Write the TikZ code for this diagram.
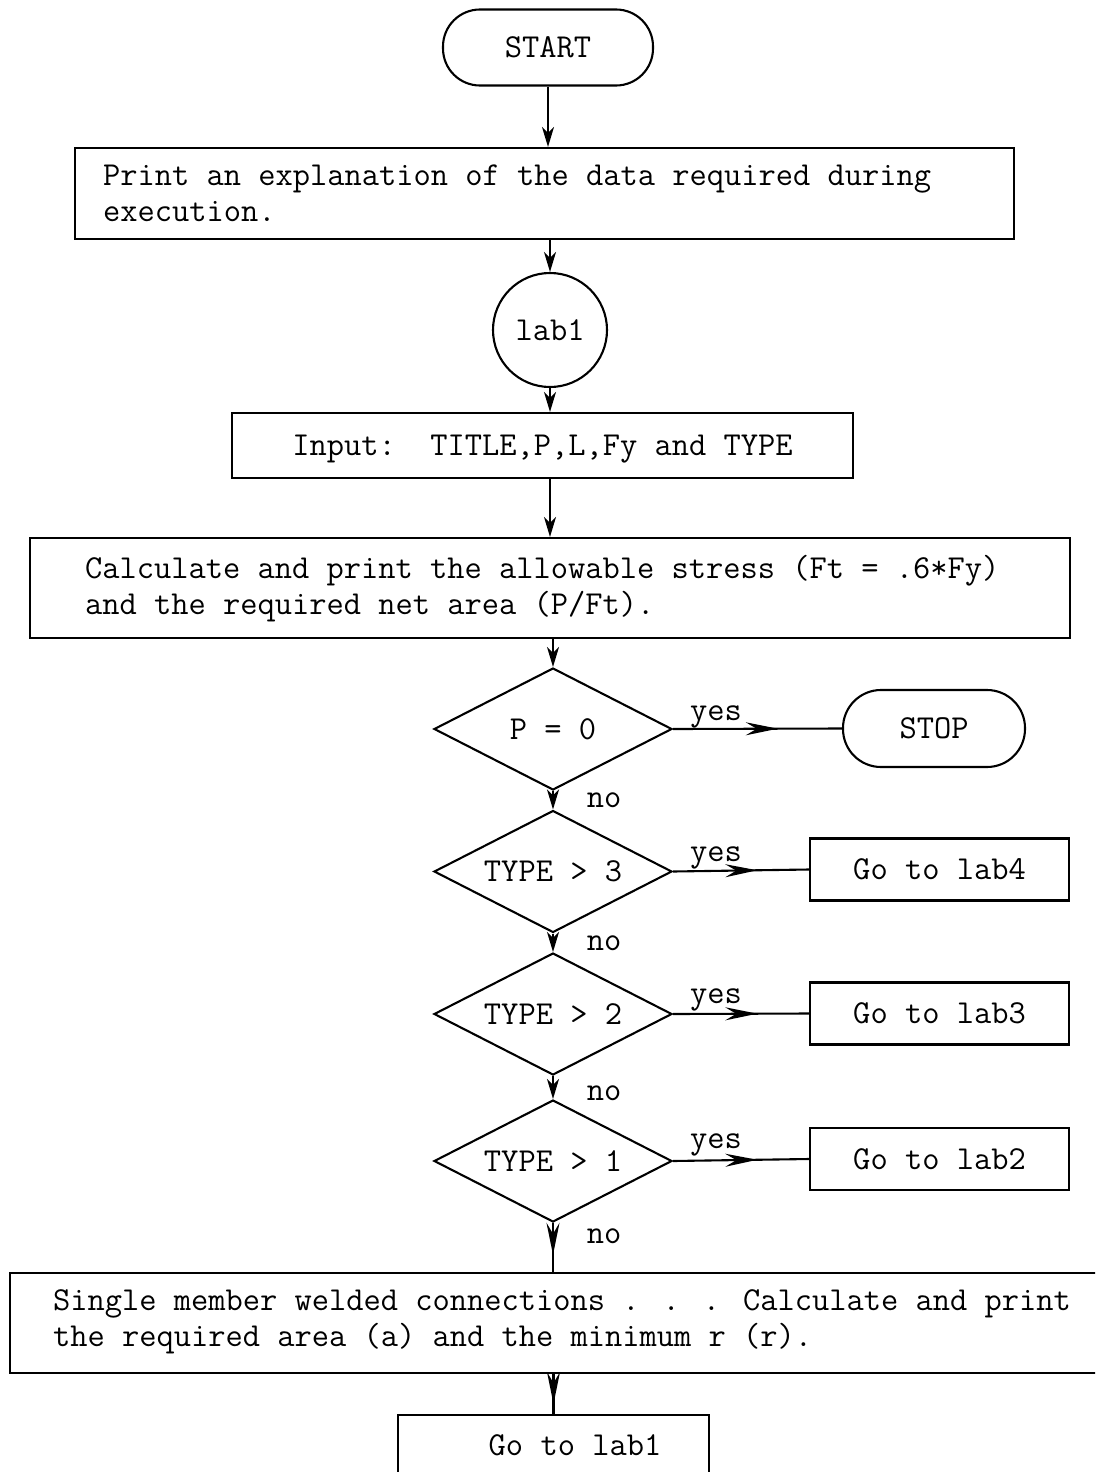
\documentclass[tikz,border=0pt]{standalone}
\usepackage{fontspec}
\usetikzlibrary{shapes.geometric,arrows.meta,decorations.markings}
\newcommand{\flowfont}{\fontsize{33.5}{36}\selectfont\ttfamily\addfontfeatures{FakeBold=0.6}}
\begin{document}
\begin{tikzpicture}[x=1pt,y=-1pt,
  every node/.style={font=\flowfont, inner sep=0pt, line width=2.1pt},
  oneline/.style={text height=20pt, text depth=0pt},
  terminal/.style={draw, rectangle, rounded corners=37pt, oneline},
  procbox/.style={draw, rectangle},
  boxtext/.style={anchor=west, align=left},
  jumpbox/.style={draw, rectangle, oneline, minimum width=259pt, minimum height=62pt},
  decide/.style={draw, diamond, aspect=2, oneline, minimum width=238pt, minimum height=122pt},
  answer/.style={anchor=base},
  flow/.style={line width=2.1pt, -{Stealth[length=20pt,width=12pt,inset=6pt]}},
  midarrow/.style={line width=2.1pt, postaction=decorate,
    decoration={markings, mark=at position #1 with {\arrow{Stealth[length=32pt,width=13pt,inset=11pt]}}}},
]
\useasboundingbox (0,0) rectangle (1095,1472);
\fill[white] (0,0) rectangle (1095,1472);
\clip (0,0) rectangle (1095,1472);

% terminals, process boxes and the entry circle
\node[terminal, minimum width=210pt, minimum height=76pt] (start) at (548,47.5) {START};
\node[procbox, minimum width=939pt, minimum height=91pt] (explain) at (544.5,193.5) {};
\node[boxtext] (explaintext) at (102,193.5)
  {Print an explanation of the data required during\\execution.};
\node[draw, circle, oneline, minimum size=114pt] (lab) at (550,330) {lab1};
\node[procbox, oneline, minimum width=621pt, minimum height=65pt] (input) at (542.5,445.5)
  {Input:\ \ TITLE,P,L,Fy and TYPE};
\node[procbox, minimum width=1040pt, minimum height=100pt] (calc) at (550,588) {};
\node[boxtext] (calctext) at (84,589)
  {Calculate and print the allowable stress (Ft = .6*Fy)\\and the required net area (P/Ft).};

% decisions
\node[decide] (d1) at (553,729) {P = 0};
\node[decide] (d2) at (553,871.5) {TYPE > 3};
\node[decide] (d3) at (553,1014) {TYPE > 2};
\node[decide] (d4) at (553,1161) {TYPE > 1};

% branch targets
\node[terminal, minimum width=182pt, minimum height=77pt, rounded corners=38pt] (stop) at (934,728.5) {STOP};
\node[jumpbox] (j4) at (939.5,869.5) {Go to lab4};
\node[jumpbox] (j3) at (939.5,1013.5) {Go to lab3};
\node[jumpbox] (j2) at (939.5,1159) {Go to lab2};

% welded-connection step, running past the right edge
\node[procbox, minimum width=1110pt, minimum height=100pt] (weld) at (565,1323) {};
\node[boxtext] (weldtext) at (52,1322)
  {Single member welded connections . . . Calculate and print\\the required area (a) and the minimum r (r).};
\node[procbox, minimum width=311pt, minimum height=80pt] (golab) at (553.5,1455) {};
\node[oneline] (gotext) at (575,1445) {Go to lab1};

% answer labels
\node[answer] (y1) at (716,720) {yes};
\node[answer] (y2) at (716,861) {yes};
\node[answer] (y3) at (716,1003) {yes};
\node[answer] (y4) at (716,1148) {yes};
\node[answer] (n1) at (604,807) {no};
\node[answer] (n2) at (604,950) {no};
\node[answer] (n3) at (604,1100) {no};
\node[answer] (n4) at (604,1243) {no};

% main flow
\draw[flow] (start.south) -- (start.south |- explain.north);
\draw[flow] (lab.north |- explain.south) -- (lab.north);
\draw[flow] (lab.south) -- (lab.south |- input.north);
\draw[flow] (lab.south |- input.south) -- (lab.south |- calc.north);
\draw[flow] (d1.north |- calc.south) -- (d1.north);
\draw[flow] (d1.south) -- (d2.north);
\draw[flow] (d2.south) -- (d3.north);
\draw[flow] (d3.south) -- (d4.north);
\draw[midarrow=0.65] (d4.south) -- (d4.south |- weld.north);
\draw[midarrow=0.75] (golab.north |- weld.south) -- (golab.north);

% yes branches
\draw[midarrow=0.62] (d1.east) -- (stop.west);
\draw[midarrow=0.62] (d2.east) -- (j4.west);
\draw[midarrow=0.62] (d3.east) -- (j3.west);
\draw[midarrow=0.62] (d4.east) -- (j2.west);
\end{tikzpicture}
\end{document}
